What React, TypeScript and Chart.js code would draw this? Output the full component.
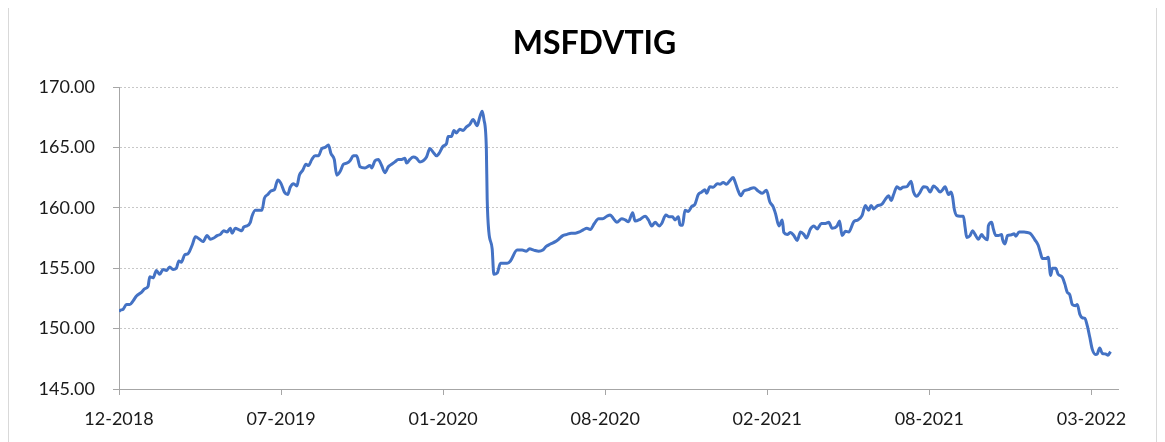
import React, { useEffect, useRef } from "react";
import { Chart, registerables } from "chart.js";

Chart.register(...registerables);

const TITLE = "MSFDVTIG";
const TICK_LABELS = ["12-2018", "07-2019", "01-2020", "08-2020", "02-2021", "08-2021", "03-2022"];
const TICK_DAYS = [0, 195, 390, 585, 780, 975, 1170];
const X_MAX = 1202;
const Y_MIN = 145;
const Y_MAX = 170;
const Y_STEP = 5;

// day offsets from the first observation
const DAYS = [
  0, 1, 5, 9, 13, 17, 21, 27, 31, 35, 37, 41, 45, 49, 53, 57, 61, 65, 69, 72, 75, 79, 83, 88, 92, 97, 101, 106, 110, 114,
  118, 122, 126, 130, 134, 136, 140, 144, 148, 150, 154, 158, 160, 164, 168, 172, 175, 179, 183, 187, 191, 195, 199, 203,
  206, 210, 214, 217, 221, 225, 228, 232, 236, 240, 244, 248, 252, 255, 259, 262, 266, 270, 274, 278, 282, 286, 290, 296,
  302, 304, 308, 312, 316, 320, 324, 328, 332, 336, 340, 344, 346, 350, 354, 358, 362, 366, 370, 374, 378, 382, 386, 390,
  394, 396, 400, 403, 406, 410, 414, 418, 422, 426, 431, 434, 437, 439, 442, 443, 445, 449, 451, 455, 459, 467, 471, 479,
  485, 490, 494, 499, 505, 510, 514, 519, 525, 529, 534, 539, 544, 549, 554, 559, 563, 567, 572, 577, 582, 587, 591, 595,
  599, 605, 609, 613, 618, 621, 627, 633, 637, 641, 645, 650, 653, 658, 662, 666, 669, 673, 675, 678, 681, 685, 689, 693,
  697, 701, 705, 707, 711, 715, 720, 723, 727, 731, 735, 739, 741, 745, 748, 752, 757, 760, 764, 769, 774, 779, 783, 787,
  790, 794, 798, 800, 804, 808, 812, 816, 820, 824, 827, 832, 836, 840, 845, 850, 854, 858, 864, 867, 870, 874, 878, 884,
  889, 894, 898, 902, 905, 908, 912, 918, 922, 926, 929, 932, 936, 940, 943, 948, 953, 956, 960, 964, 968, 972, 976, 980,
  984, 988, 991, 994, 998, 1001, 1003, 1005, 1008, 1012, 1016, 1018, 1020, 1024, 1027, 1030, 1034, 1038, 1040, 1045, 1046,
  1050, 1052, 1055, 1058, 1062, 1063, 1066, 1069, 1073, 1077, 1079, 1083, 1089, 1093, 1097, 1102, 1106, 1109, 1111, 1115,
  1118, 1121, 1123, 1127, 1130, 1135, 1138, 1141, 1144, 1147, 1151, 1153, 1156, 1159, 1162, 1165, 1168, 1171, 1175, 1177,
  1180, 1183, 1187, 1190, 1193,
];

const VALUES = [
  151.4, 151.5, 151.6, 152.0, 152.0, 152.3, 152.7, 153.0, 153.3, 153.5, 154.3, 154.2, 154.8, 154.5, 154.9, 154.8, 155.1,
  154.9, 155.0, 155.6, 155.5, 156.1, 156.2, 156.9, 157.6, 157.4, 157.2, 157.7, 157.4, 157.5, 157.7, 157.8, 158.1, 158.0,
  158.3, 157.9, 158.3, 158.2, 158.1, 158.4, 158.5, 158.8, 159.3, 159.8, 159.8, 159.8, 160.8, 161.1, 161.4, 161.5, 162.3,
  162.0, 161.3, 161.1, 161.7, 162.0, 161.8, 162.7, 163.1, 163.6, 163.5, 164.0, 164.3, 164.3, 164.9, 165.0, 165.2, 164.5,
  164.0, 162.7, 163.0, 163.6, 163.7, 163.9, 164.3, 164.3, 163.4, 163.3, 163.5, 163.3, 163.9, 164.0, 163.5, 162.9, 163.4,
  163.6, 163.8, 164.0, 164.0, 164.1, 163.7, 164.0, 164.2, 164.1, 163.8, 163.9, 164.2, 164.9, 164.6, 164.3, 164.6, 165.1,
  165.3, 165.9, 165.9, 166.4, 166.2, 166.5, 166.4, 166.7, 166.9, 167.3, 166.8, 167.5, 168.0, 167.35, 164.9, 160.7, 158.0,
  156.6, 154.5, 154.6, 155.4, 155.4, 155.6, 156.5, 156.5, 156.4, 156.6, 156.5, 156.4, 156.5, 156.8, 157.0, 157.2, 157.4,
  157.7, 157.8, 157.9, 157.9, 158.0, 158.2, 158.3, 158.2, 158.7, 159.1, 159.1, 159.3, 159.4, 159.1, 158.8, 159.1, 159.0,
  158.85, 159.6, 158.9, 159.05, 159.3, 159.0, 158.5, 158.8, 158.5, 158.7, 159.4, 159.25, 159.25, 159.0, 159.25, 158.6,
  158.55, 159.8, 159.7, 160.1, 160.3, 161.1, 161.3, 161.5, 161.2, 161.75, 161.7, 162.0, 161.95, 162.1, 161.95, 162.25,
  162.5, 162.2, 161.4, 161.0, 161.4, 161.5, 161.6, 161.65, 161.4, 161.2, 161.45, 160.5, 160.1, 159.5, 158.5, 159.0, 157.95,
  157.8, 157.95, 157.7, 157.3, 158.0, 157.8, 157.5, 158.25, 158.5, 158.25, 158.7, 158.7, 158.8, 158.3, 158.5, 158.9, 157.7,
  158.05, 158.0, 158.85, 159.0, 159.35, 160.2, 159.8, 160.2, 159.9, 160.15, 160.3, 160.7, 161.0, 160.6, 161.1, 161.75,
  161.55, 161.7, 161.75, 162.2, 161.3, 160.95, 161.3, 161.75, 161.7, 161.3, 161.8, 161.6, 161.3, 161.5, 161.75, 161.1,
  161.3, 160.9, 159.9, 159.35, 159.3, 159.3, 158.4, 157.55, 157.7, 158.1, 157.8, 157.4, 157.8, 157.6, 157.35, 158.5, 158.8,
  158.25, 157.7, 157.7, 157.8, 157.4, 157.0, 157.7, 157.75, 157.85, 157.65, 158.0, 158.0, 157.95, 157.85, 157.35, 156.9,
  156.2, 155.8, 155.8, 155.9, 154.4, 155.0, 155.0, 154.5, 154.25, 153.7, 153.0, 152.8, 152.0, 151.9, 152.0, 151.2, 150.9,
  150.85, 150.25, 149.3, 148.3, 147.85, 147.9, 148.4, 147.95, 147.9, 147.8, 148.1,
];

const FONT = "Lato, 'Open Sans', sans-serif";

const titlePlugin = {
  id: "centeredTitle",
  afterDraw(chart: any) {
    const ctx = chart.ctx;
    ctx.save();
    ctx.font = `bold 32px ${FONT}`;
    ctx.fillStyle = "#000000";
    ctx.textAlign = "center";
    ctx.textBaseline = "middle";
    ctx.fillText(TITLE, chart.width / 2 + 12, 36);
    ctx.restore();
  },
};

export default function App() {
  const canvasRef = useRef<HTMLCanvasElement | null>(null);

  useEffect(() => {
    if (!canvasRef.current) return;
    const chart = new Chart(canvasRef.current, {
      type: "line",
      data: {
        datasets: [
          {
            label: TITLE,
            data: DAYS.map((d, i) => ({ x: d, y: VALUES[i] })),
            borderColor: "#4472C4",
            backgroundColor: "#4472C4",
            borderWidth: 3,
            pointRadius: 0,
            cubicInterpolationMode: "monotone",
            fill: false,
          },
        ],
      },
      plugins: [titlePlugin],
      options: {
        animation: false,
        responsive: false,
        maintainAspectRatio: false,
        layout: { padding: { left: 0, right: 38, top: 79, bottom: 0 } },
        plugins: {
          legend: { display: false },
          tooltip: { enabled: false },
          title: { display: false },
        },
        scales: {
          x: {
            type: "linear",
            min: 0,
            max: X_MAX,
            afterBuildTicks: (axis: any) => {
              axis.ticks = TICK_DAYS.map((v) => ({ value: v }));
            },
            afterFit: (axis: any) => {
              axis.height = 57;
            },
            ticks: {
              autoSkip: false,
              maxRotation: 0,
              padding: 13,
              color: "#1a1a1a",
              font: { family: FONT, size: 18 },
              callback: (value: any) => {
                const idx = TICK_DAYS.indexOf(Number(value));
                return idx >= 0 ? TICK_LABELS[idx] : "";
              },
            },
            grid: {
              drawOnChartArea: false,
              drawTicks: true,
              tickLength: 6,
              tickColor: "#a6a6a6",
              lineWidth: 1,
            },
            border: { display: true, color: "#a6a6a6", width: 1 },
          },
          y: {
            min: Y_MIN,
            max: Y_MAX,
            afterFit: (axis: any) => {
              axis.width = 110;
            },
            ticks: {
              stepSize: Y_STEP,
              padding: 18,
              color: "#1a1a1a",
              font: { family: FONT, size: 18 },
              callback: (value: any) => Number(value).toFixed(2),
            },
            grid: {
              color: "#c8c8c8",
              tickBorderDash: [],
              tickColor: "#a6a6a6",
              tickLength: 6,
              lineWidth: 1,
            },
            border: { display: true, color: "#a6a6a6", width: 1, dash: [2, 2] },
          },
        },
      },
    });
    return () => chart.destroy();
  }, []);

  return (
    <div
      style={{
        position: "relative",
        width: 1149,
        height: 440,
        border: "1px solid #d9d9d9",
        boxSizing: "border-box",
        marginTop: -1,
        background: "#ffffff",
      }}
    >
      <canvas ref={canvasRef} width={1147} height={438} style={{ display: "block" }} />
    </div>
  );
}
